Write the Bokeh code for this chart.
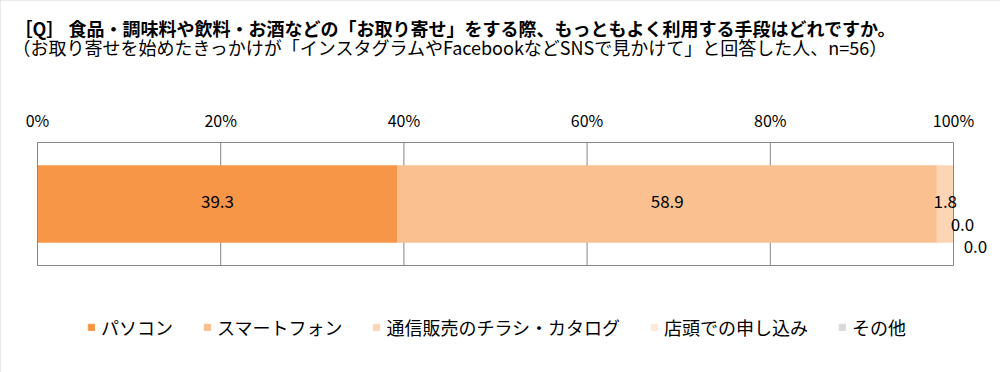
from bokeh.plotting import figure
from bokeh.models import (ColumnDataSource, LabelSet, Label, Legend, LegendItem,
                          FixedTicker, PrintfTickFormatter, Range1d)
from bokeh.core.properties import value
from bokeh.embed import file_html
from bokeh.resources import INLINE

# ---- data ----
title_text = "［Q］ 食品・調味料や飲料・お酒などの「お取り寄せ」をする際、もっともよく利用する手段はどれですか。"
subtitle_text = "（お取り寄せを始めたきっかけが「インスタグラムやFacebookなどSNSで見かけて」と回答した人、n=56）"
categories = ["パソコン", "スマートフォン", "通信販売のチラシ・カタログ", "店頭での申し込み", "その他"]
values = [39.3, 58.9, 1.8, 0.0, 0.0]
ticks = [0, 20, 40, 60, 80, 100]

# ---- style ----
colors = ["#F79646", "#FAC090", "#FCD5B5", "#FDE9D9", "#D9D9D9"]
label_dx = [0, 0, 0, 9, 22]
label_dy = [3, 3, 3, -20, -42]
FONT = "Noto Sans CJK JP"
GRID = "#868686"
W, H = 1000, 372
PX0, PX100 = 37, 953            # pixel position of 0% and 100%
BOX_TOP, BOX_BOTTOM = 142, 265  # pixel top / bottom of the plot box

scale = (PX100 - PX0) / 100.0
x_start = -PX0 / scale
x_end = 100 + (W - PX100) / scale
unit = BOX_BOTTOM - BOX_TOP     # pixels per y unit (box spans -0.5..0.5)
y_start = -0.5 - (H - BOX_BOTTOM) / unit
y_end = 0.5 + BOX_TOP / unit

p = figure(width=W, height=H,
           x_range=Range1d(x_start, x_end), y_range=Range1d(y_start, y_end),
           x_axis_location="above", y_axis_location=None, title_location=None,
           output_backend="svg", toolbar_location=None, min_border=0)
p.background_fill_color = "white"
p.border_fill_color = "white"
p.outline_line_color = None
p.styles = {"outline": "2px solid #d4d4d4", "outline-offset": "-2px"}

# grid lines inside the plot box
p.segment(x0=ticks[1:-1], y0=-0.5, x1=ticks[1:-1], y1=0.5, line_color=GRID, line_width=1)

src = ColumnDataSource({"y": [0], **{c: [v] for c, v in zip(categories, values)}})
renderers = p.hbar_stack(categories, y="y", height=0.62, color=colors, source=src)

# plot box outline
p.quad(left=ticks[0], right=ticks[-1], bottom=-0.5, top=0.5,
       fill_color=None, line_color=GRID, line_width=1)

# data labels
mids, cum = [], 0.0
for v in values:
    mids.append(cum + v / 2)
    cum += v
lab_src = ColumnDataSource(dict(x=mids, y=[0] * len(values),
                                text=[f"{v:.1f}" for v in values],
                                dx=label_dx, dy=label_dy))
labels = LabelSet(x="x", y="y", text="text", x_offset="dx", y_offset="dy",
                  source=lab_src, text_align="center", text_baseline="middle",
                  text_font=value(FONT), text_font_size="17px", text_color="black")
p.add_layout(labels)

# percentage axis, drawn on top of the plot box
p.xaxis.fixed_location = 0.5
p.xaxis.ticker = FixedTicker(ticks=ticks)
p.xaxis.formatter = PrintfTickFormatter(format="%d%%")
p.xaxis.axis_line_color = None
p.xaxis.major_tick_line_color = None
p.xaxis.minor_tick_line_color = None
p.xaxis.major_label_text_font = FONT
p.xaxis.major_label_text_font_size = "16px"
p.xaxis.major_label_text_color = "black"
p.xaxis.major_label_standoff = 5
p.xgrid.visible = False
p.ygrid.visible = False

# titles
p.add_layout(Label(x=14, y=H - 27, x_units="screen", y_units="screen", text=title_text,
                   text_font=FONT, text_font_size="18px", text_font_style="bold",
                   text_baseline="middle", text_color="black"))
p.add_layout(Label(x=12, y=H - 46, x_units="screen", y_units="screen", text=subtitle_text,
                   text_font=FONT, text_font_size="18px",
                   text_baseline="middle", text_color="black"))

# legend
legend = Legend(items=[LegendItem(label=c, renderers=[r]) for c, r in zip(categories, renderers)],
                location=(87, 32), orientation="horizontal",
                glyph_width=8, glyph_height=8, label_standoff=6, spacing=30,
                padding=0, margin=0, border_line_alpha=0, background_fill_alpha=0,
                label_text_font=FONT, label_text_font_size="18px", label_text_color="black")
p.add_layout(legend, "center")

open("out.html", "w").write(file_html(p, INLINE))
